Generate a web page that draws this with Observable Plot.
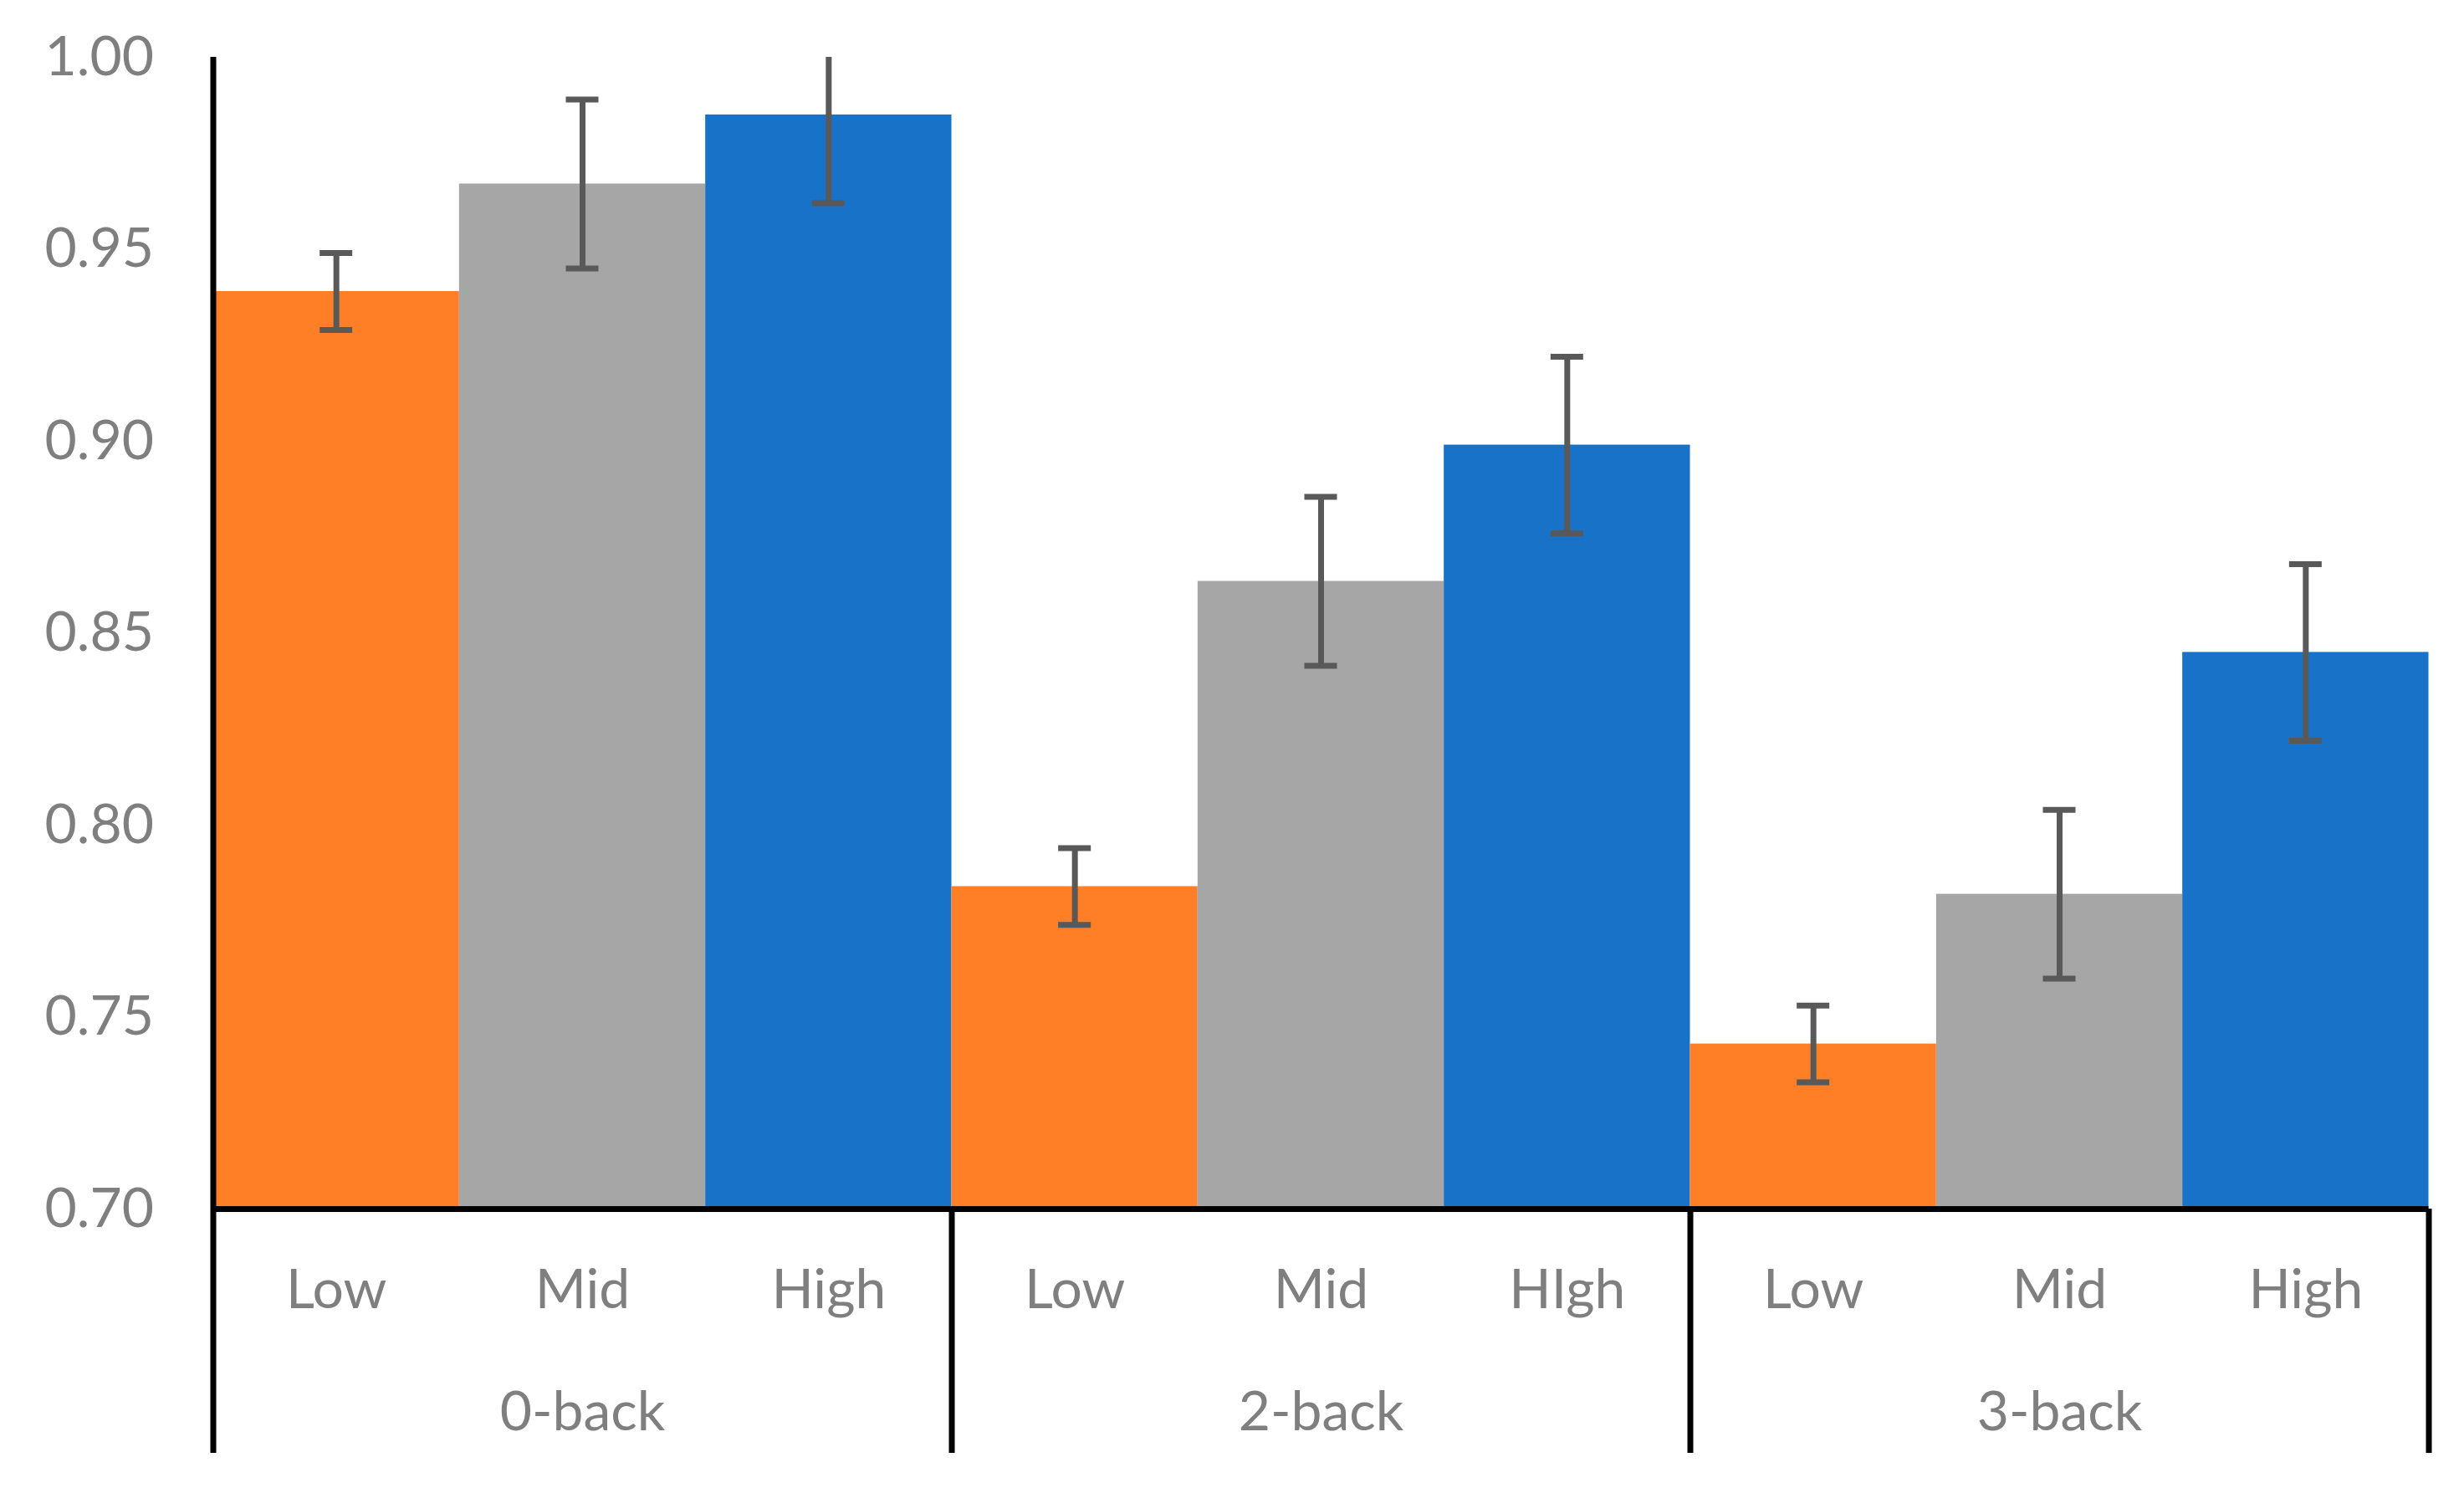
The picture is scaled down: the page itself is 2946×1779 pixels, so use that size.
<!DOCTYPE html>
<html>
<head>
<meta charset="utf-8">
<script src="https://cdn.jsdelivr.net/npm/d3@7"></script>
<script src="https://cdn.jsdelivr.net/npm/@observablehq/plot@0.6"></script>
<style>
  html, body { margin: 0; padding: 0; background: #ffffff; }
  #chart { width: 2946px; height: 1779px; }
</style>
</head>
<body>
<div id="chart"></div>
<script>
// ---- Data ----
const groups = ["0-back", "2-back", "3-back"];
const levelKeys = ["Low", "Mid", "High"];
const levelLabels = [
  ["Low", "Mid", "High"],
  ["Low", "Mid", "HIgh"],
  ["Low", "Mid", "High"]
];
const means = [0.939, 0.967, 0.985, 0.784, 0.8635, 0.899, 0.743, 0.782, 0.845];
const errors = [0.010, 0.022, 0.023, 0.010, 0.022, 0.023, 0.010, 0.022, 0.023];
const yTicks = [0.70, 0.75, 0.80, 0.85, 0.90, 0.95, 1.00];

// ---- Styles ----
const levelColors = ["#FF7F27", "#A6A6A6", "#1873C8"];
const textColor = "#7f7f7f";
const errColor = "#595959";
const W = 2946, H = 1779;
const mL = 254.5, mR = 42.5, mT = 68, mB = 334;
const font = "Lato, 'Open Sans', sans-serif";

// build table
const rows = [];
groups.forEach((g, gi) => {
  levelKeys.forEach((k, ki) => {
    const i = gi * 3 + ki;
    rows.push({i, group: g, level: k, label: levelLabels[gi][ki], mean: means[i], err: errors[i]});
  });
});

const nBars = rows.length;
const pxPerX = (W - mL - mR) / nBars;
const pxPerY = (H - mT - mB) / (1.00 - 0.70);
const capHalf = 19.5 / pxPerX;
const dividerBottom = 0.70 - (1737 - (H - mB)) / pxPerY;
const groupBounds = [0, 3, 6, 9];

const chart = Plot.plot({
  width: W,
  height: H,
  marginLeft: mL,
  marginRight: mR,
  marginTop: mT,
  marginBottom: mB,
  style: {background: "#ffffff", fontFamily: font, fontSize: "66px", overflow: "visible"},
  x: {domain: [0, nBars], axis: null},
  y: {domain: [0.70, 1.00], axis: null},
  color: {type: "ordinal", domain: levelKeys, range: levelColors},
  marks: [
    Plot.rectY(rows, {x1: d => d.i, x2: d => d.i + 1, y1: 0.70, y2: "mean", fill: "level"}),
    // error bars
    Plot.ruleX(rows, {x: d => d.i + 0.5, y1: d => d.mean - d.err, y2: d => d.mean + d.err, stroke: errColor, strokeWidth: 7, clip: true}),
    Plot.ruleY(rows, {y: d => d.mean - d.err, x1: d => d.i + 0.5 - capHalf, x2: d => d.i + 0.5 + capHalf, stroke: errColor, strokeWidth: 7, clip: true}),
    Plot.ruleY(rows, {y: d => d.mean + d.err, x1: d => d.i + 0.5 - capHalf, x2: d => d.i + 0.5 + capHalf, stroke: errColor, strokeWidth: 7, clip: true}),
    // y axis labels
    Plot.axisY({ticks: yTicks, tickFormat: d3.format(".2f"), tickSize: 0, tickPadding: 71, label: null, fill: textColor, fontSize: 66, fontFamily: font}),
    // axis lines
    Plot.ruleX([0], {y1: dividerBottom, y2: 1.00, stroke: "#000", strokeWidth: 7}),
    Plot.ruleX(groupBounds.slice(1), {y1: dividerBottom, y2: 0.70, stroke: "#000", strokeWidth: 7}),
    Plot.ruleY([0.70], {x1: 0, x2: nBars, stroke: "#000", strokeWidth: 7}),
    // level labels
    Plot.text(rows, {x: d => d.i + 0.5, frameAnchor: "bottom", dy: 118, text: "label", fill: textColor, fontSize: 66, fontFamily: font}),
    // group labels
    Plot.text(groups, {x: (d, j) => j * 3 + 1.5, frameAnchor: "bottom", dy: 264, text: d => d, fill: textColor, fontSize: 66, fontFamily: font})
  ]
});

document.getElementById("chart").appendChild(chart);
</script>
</body>
</html>
